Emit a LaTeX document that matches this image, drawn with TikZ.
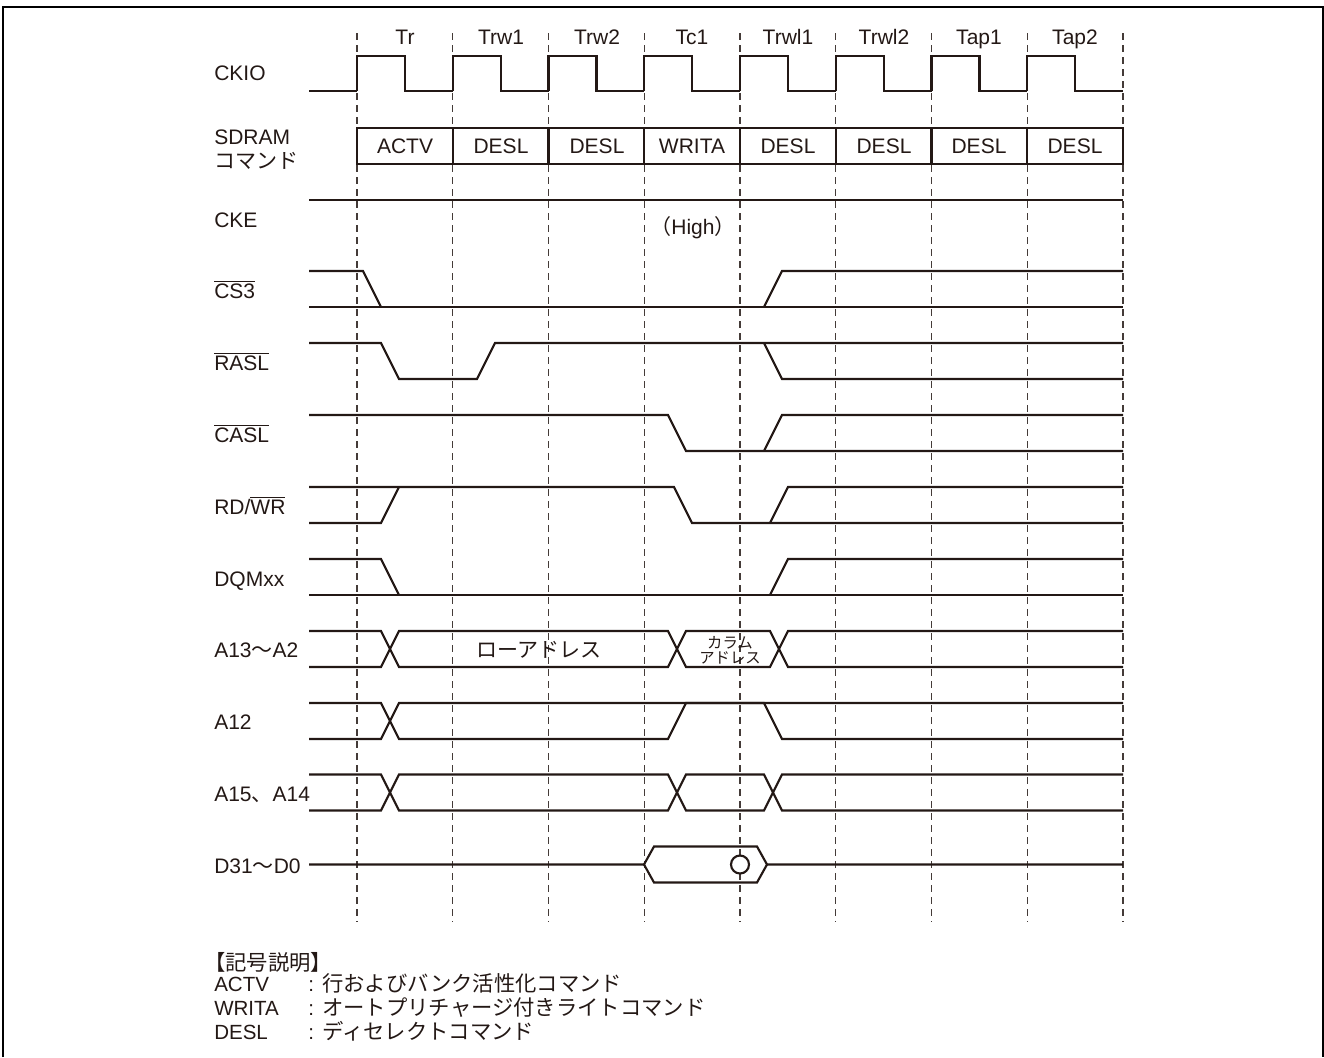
\documentclass[tikz,border=0pt]{standalone}
\usepackage{fontspec}
\setmainfont{Liberation Sans}
\newfontfamily\cjk{Noto Sans CJK JP}
\definecolor{inkdark}{HTML}{231815}
\def\barred#1{$\overline{\mbox{#1}}$}
\def\legendjp{\fontsize{16}{18}\selectfont\cjk}
\tikzset{
	wave/.style={line width=1.6pt, color=inkdark, line join=miter},
	gridline/.style={line width=0.8pt, color=inkdark!85, dash pattern=on 5.5pt off 3.5pt},
	framing/.style={line width=1.5pt, color=black},
	lbl/.style={anchor=base west, inner sep=0pt, text=inkdark, font=\fontsize{15.75}{18}\selectfont},
	mid/.style={anchor=base, inner sep=0pt, text=inkdark, font=\fontsize{15.75}{18}\selectfont},
	legend/.style={anchor=base west, inner sep=0pt, text=inkdark, font=\fontsize{15.4}{18}\selectfont}
}
\begin{document}
\begin{tikzpicture}[x=0.75pt,y=-0.75pt]
	\useasboundingbox (0,0) rectangle (1324,1057);
	\draw[framing] (2.5,1057) -- (2.5,6.5) -- (1322.5,6.5) -- (1322.5,1057);

	% clock grid
	\foreach \x in {357,452.75,548.5,644.25,740,835.75,931.5,1027.25,1123}
		\draw[gridline] (\x,33) -- (\x,922);
	\foreach \x/\name [count=\i] in {405/Tr,501/Trw1,597/Trw2,692/Tc1,788/Trwl1,884/Trwl2,979/Tap1,1075/Tap2}
		\node[mid] (tick\i) at (\x,44) {\name};

	% CKIO
	\draw[wave] (309,91) -- (357,91);
	\foreach \x in {357,452.75,548.5,644.25,740,835.75,931.5,1027.25}
		\draw[wave] (\x,91) -- (\x,56) -- (\x+48,56) -- (\x+48,91) -- (\x+95.75,91);

	% command row
	\draw[wave] (357,128) rectangle (1123,164);
	\foreach \x in {452.75,548.5,644.25,740,835.75,931.5,1027.25}
		\draw[wave] (\x,128) -- (\x,164);
	\foreach \x/\name [count=\i] in {405/ACTV,501/DESL,597/DESL,692/WRITA,788/DESL,884/DESL,979/DESL,1075/DESL}
		\node[mid] (cmd\i) at (\x,153) {\name};

	% CKE
	\draw[wave] (309,200) -- (1123,200);
	\node[mid] (high) at (693,234) {{\cjk （}High{\cjk ）}};

	% CS3
	\draw[wave] (309,271) -- (363,271) -- (381,307);
	\draw[wave] (309,307) -- (1123,307);
	\draw[wave] (764,307) -- (782,271) -- (1123,271);

	% RASL
	\draw[wave] (309,343) -- (381,343) -- (399,379) -- (477,379) -- (495,343) -- (1123,343);
	\draw[wave] (764,343) -- (782,379) -- (1123,379);

	% CASL
	\draw[wave] (309,415) -- (668,415) -- (686,451) -- (1123,451);
	\draw[wave] (764,451) -- (782,415) -- (1123,415);

	% RD/WR
	\draw[wave] (309,523) -- (381,523) -- (399,487);
	\draw[wave] (309,487) -- (674,487) -- (692,523) -- (1123,523);
	\draw[wave] (770,523) -- (788,487) -- (1123,487);

	% DQMxx
	\draw[wave] (309,559) -- (381,559) -- (399,595);
	\draw[wave] (309,595) -- (1123,595);
	\draw[wave] (770,595) -- (788,559) -- (1123,559);

	% A13-A2
	\draw[wave] (309,631) -- (381,631) -- (399,667) -- (668,667) -- (686,631) -- (770,631) -- (788,667) -- (1123,667);
	\draw[wave] (309,667) -- (381,667) -- (399,631) -- (668,631) -- (686,667) -- (770,667) -- (788,631) -- (1123,631);
	\node[mid] (rowaddr) at (539,657) {\cjk ローアドレス};
	\node[mid, font=\fontsize{11.5}{11.5}\selectfont] (coladdr1) at (730,648) {\cjk カラム};
	\node[mid, font=\fontsize{11.5}{11.5}\selectfont] (coladdr2) at (730,663) {\cjk アドレス};

	% A12
	\draw[wave] (309,703) -- (381,703) -- (399,739) -- (668,739) -- (686,703) -- (764,703) -- (782,739) -- (1123,739);
	\draw[wave] (309,739) -- (381,739) -- (399,703) -- (1123,703);

	% A15, A14
	\draw[wave] (309,774.5) -- (381,774.5) -- (399,810.5) -- (668,810.5) -- (686,774.5) -- (764,774.5) -- (782,810.5) -- (1123,810.5);
	\draw[wave] (309,810.5) -- (381,810.5) -- (399,774.5) -- (668,774.5) -- (686,810.5) -- (764,810.5) -- (782,774.5) -- (1123,774.5);

	% D31-D0
	\draw[wave] (309,864.5) -- (644,864.5) -- (654,846.5) -- (757,846.5) -- (767,864.5) -- (1123,864.5);
	\draw[wave] (644,864.5) -- (654,882.5) -- (757,882.5) -- (767,864.5);
	\draw[wave, fill=white] (740,864.5) circle (9);

	% signal names
	\node[lbl] (ckio) at (214,80) {CKIO};
	\node[lbl] (sdram) at (214,144) {SDRAM};
	\node[lbl] (sdramcmd) at (214,168) {\cjk コマンド};
	\node[lbl] (cke) at (214,227) {CKE};
	\node[lbl] (cs) at (214,298) {\barred{CS3}};
	\node[lbl] (ras) at (214,370) {\barred{RASL}};
	\node[lbl] (cas) at (214,442) {\barred{CASL}};
	\node[lbl] (rdwr) at (214,514) {RD/\barred{WR}};
	\node[lbl] (dqm) at (214,586) {DQMxx};
	\node[lbl] (addr) at (214,657) {A13{\cjk 〜}A2};
	\node[lbl] (atw) at (214,729) {A12};
	\node[lbl] (bank) at (214,801) {A15{\cjk 、}A14};
	\node[lbl] (data) at (214,873) {D31{\cjk 〜}D0};

	% legend
	\node[legend] (legtitle) at (204,970) {\legendjp 【記号説明】};
	\node[legend] (legactv) at (214,991) {ACTV};
	\node[legend] (legwrita) at (214,1015) {WRITA};
	\node[legend] (legdesl) at (214,1039) {DESL};
	\node[legend] (colactv) at (308,991) {:};
	\node[legend] (colwrita) at (308,1015) {:};
	\node[legend] (coldesl) at (308,1039) {:};
	\node[legend] (txtactv) at (322,991) {\legendjp 行およびバンク活性化コマンド};
	\node[legend] (txtwrita) at (322,1015) {\legendjp オートプリチャージ付きライトコマンド};
	\node[legend] (txtdesl) at (322,1039) {\legendjp ディセレクトコマンド};
\end{tikzpicture}
\end{document}
